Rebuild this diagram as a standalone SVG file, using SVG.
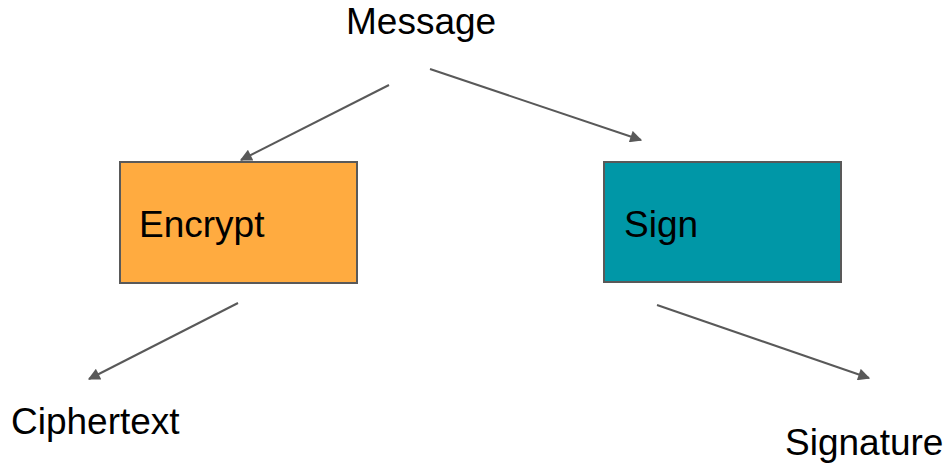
<svg xmlns="http://www.w3.org/2000/svg" width="950" height="466" viewBox="0 0 950 466">
<style>
text{font-family:"Liberation Sans",Arial,sans-serif;font-size:37px;fill:#000}
.box{stroke:#595959;stroke-width:2}
.edge{stroke:#595959;stroke-width:2;fill:none;marker-end:url(#ah)}
</style>
<defs>
<marker id="ah" viewBox="0 0 10 10" refX="9" refY="5" markerWidth="7" markerHeight="6" orient="auto" markerUnits="strokeWidth">
<path d="M0,0 L10,5 L0,10 z" fill="#595959"/>
</marker>
</defs>
<rect width="950" height="466" fill="#fff"/>
<g id="connectors">
<line class="edge" x1="389" y1="85" x2="241" y2="160"/>
<line class="edge" x1="430" y1="69" x2="641" y2="140"/>
<line class="edge" x1="238" y1="303" x2="89" y2="379"/>
<line class="edge" x1="657" y1="305" x2="869" y2="378"/>
</g>
<g id="message"><text x="346" y="34">Message</text></g>
<g id="encrypt"><rect class="box" x="120" y="162" width="237" height="121" fill="#ffab40"/><text x="139" y="237">Encrypt</text></g>
<g id="sign"><rect class="box" x="604" y="162" width="237" height="120" fill="#0097a7"/><text x="624" y="237">Sign</text></g>
<g id="ciphertext"><text x="11" y="434">Ciphertext</text></g>
<g id="signature"><text x="785" y="455">Signature</text></g>
</svg>
